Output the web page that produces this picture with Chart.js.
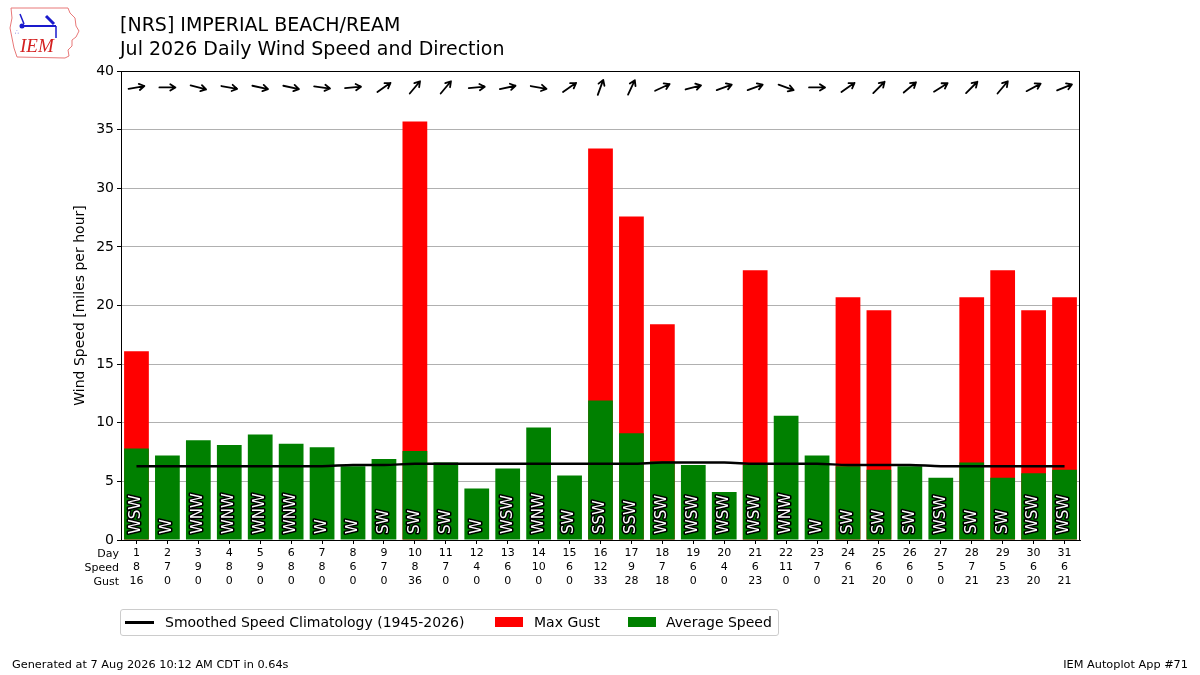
<!DOCTYPE html>
<html>
<head>
<meta charset="utf-8">
<script src="https://cdn.jsdelivr.net/npm/chart.js@4.4.1/dist/chart.umd.min.js"></script>
<style>
  body { margin: 0; background: #fff; font-family: "DejaVu Sans", sans-serif; }
  #wrap { position: relative; width: 1200px; height: 675px; overflow: hidden; }
  #chartBox { position: absolute; left: 0; top: 0; width: 1200px; height: 675px; }
  .title { position: absolute; left: 120px; font-size: 19px; line-height: 24px; color: #000; white-space: nowrap; }
  .foot { position: absolute; top: 658px; font-size: 11.3px; line-height: 13px; color: #000; white-space: nowrap; }
  #legend { position: absolute; left: 120px; top: 609px; width: 657px; height: 25px; border: 1px solid #cccccc; border-radius: 3px; }
  #legend span { position: absolute; font-size: 14px; line-height: 16px; top: 4px; white-space: nowrap; }
  #legend i { position: absolute; display: block; }
</style>
</head>
<body>
<div id="wrap">
  <div id="chartBox"><canvas id="windChart"></canvas></div>

  <svg style="position:absolute;left:6px;top:4px" width="76" height="56" viewBox="0 0 76 56">
    <path d="M5 4 L62 4 L64 9 L69 14 L70 22 L73 27 L70 33 L66 36 L66 42 L62 46 L63 52 L59 54 L11 53 L8 44 L6 34 L4 24 L6 14 Z"
          fill="none" stroke="#e87878" stroke-width="1"/>
    <line x1="16" y1="22" x2="50" y2="22" stroke="#1a1acc" stroke-width="2"/>
    <circle cx="16" cy="22" r="2.5" fill="#1a1acc"/>
    <line x1="14" y1="10" x2="18" y2="20" stroke="#1a1acc" stroke-width="1.5"/>
    <line x1="40" y1="12" x2="48" y2="20" stroke="#1a1acc" stroke-width="3"/>
    <line x1="50" y1="22" x2="50" y2="34" stroke="#1a1acc" stroke-width="1.5"/>
    <text x="9" y="30" font-size="6" fill="#1a1acc">∴</text>
    <text x="14" y="48" font-family="Liberation Serif, serif" font-style="italic" font-size="19" fill="#d42020">IEM</text>
  </svg>

  <div class="title" style="top:12px">[NRS] IMPERIAL BEACH/REAM</div>
  <div class="title" style="top:36px">Jul 2026 Daily Wind Speed and Direction</div>

  <div id="legend">
    <i style="left:4px;top:11px;width:29px;height:2.5px;background:#000"></i>
    <span style="left:44px">Smoothed Speed Climatology (1945-2026)</span>
    <i style="left:374px;top:7px;width:28px;height:10px;background:#ff0000"></i>
    <span style="left:413px">Max Gust</span>
    <i style="left:507px;top:7px;width:28px;height:10px;background:#008000"></i>
    <span style="left:545px">Average Speed</span>
  </div>

  <div class="foot" style="left:12px">Generated at 7 Aug 2026 10:12 AM CDT in 0.64s</div>
  <div class="foot" style="right:12px">IEM Autoplot App #71</div>
</div>

<script>
const days = [1, 2, 3, 4, 5, 6, 7, 8, 9, 10, 11, 12, 13, 14, 15, 16, 17, 18, 19, 20, 21, 22, 23, 24, 25, 26, 27, 28, 29, 30, 31];
// average speed and max gust, mph
const avgSpeed = [7.8, 7.2, 8.5, 8.1, 9.0, 8.2, 7.9, 6.3, 6.9, 7.6, 6.6, 4.4, 6.1, 9.6, 5.5, 11.9,
                  9.1, 6.7, 6.4, 4.1, 6.4, 10.6, 7.2, 6.3, 6.0, 6.3, 5.3, 6.6, 5.3, 5.7, 6.0];
const maxGust = [16.1, 0, 0, 0, 0, 0, 0, 0, 0, 35.7, 0, 0, 0, 0, 0, 33.4,
                 27.6, 18.4, 0, 0, 23.0, 0, 0, 20.7, 19.6, 0, 0, 20.7, 23.0, 19.6, 20.7];
const climo = [6.3, 6.3, 6.3, 6.3, 6.3, 6.3, 6.3, 6.4, 6.4, 6.5, 6.5, 6.5, 6.5, 6.5, 6.5, 6.5,
               6.5, 6.6, 6.6, 6.6, 6.5, 6.5, 6.5, 6.4, 6.4, 6.4, 6.3, 6.3, 6.3, 6.3, 6.3];
// wind direction (degrees, from) and its compass label
const windDir = [260, 270, 285, 280, 282, 282, 278, 265, 235, 220, 220, 265, 258, 280, 235, 200,
                 205, 245, 255, 250, 250, 290, 270, 235, 225, 230, 238, 225, 220, 242, 248];
const dirLabels = ['WSW', 'W', 'WNW', 'WNW', 'WNW', 'WNW', 'W', 'W', 'SW', 'SW', 'SW', 'W', 'WSW', 'WNW', 'SW', 'SSW',
                   'SSW', 'WSW', 'WSW', 'WSW', 'WSW', 'WNW', 'W', 'SW', 'SW', 'SW', 'WSW', 'SW', 'SW', 'WSW', 'WSW'];
// rounded values printed under the axis
const speedLabels = ['8', '7', '9', '8', '9', '8', '8', '6', '7', '8', '7', '4', '6', '10', '6', '12',
                     '9', '7', '6', '4', '6', '11', '7', '6', '6', '6', '5', '7', '5', '6', '6'];
const gustLabels = ['16', '0', '0', '0', '0', '0', '0', '0', '0', '36', '0', '0', '0', '0', '0', '33',
                    '28', '18', '0', '0', '23', '0', '0', '21', '20', '0', '0', '21', '23', '20', '21'];
const yTicks = [0, 5, 10, 15, 20, 25, 30, 35, 40];

const FONT = '"DejaVu Sans", sans-serif';
const tickLines = 14;

// box, row headers, direction text and arrows
const extras = {
  id: 'extras',
  afterDatasetsDraw(chart) {
    const { ctx, chartArea } = chart;
    const x = chart.scales.x, y = chart.scales.y;
    ctx.save();
    ctx.strokeStyle = '#000';
    ctx.lineWidth = 1;
    ctx.strokeRect(chartArea.left + 0.5, chartArea.top + 0.5, chartArea.right - chartArea.left - 1, chartArea.bottom - chartArea.top);

    // direction labels inside bars
    ctx.font = '15px ' + FONT;
    ctx.textAlign = 'left';
    ctx.textBaseline = 'middle';
    ctx.lineJoin = 'round';
    dirLabels.forEach((lbl, i) => {
      const px = x.getPixelForValue(i);
      ctx.save();
      ctx.translate(px, y.getPixelForValue(0) - 6);
      ctx.rotate(-Math.PI / 2);
      ctx.lineWidth = 3;
      ctx.strokeStyle = '#000';
      ctx.strokeText(lbl, 0, 0);
      ctx.fillStyle = '#fff';
      ctx.fillText(lbl, 0, 0);
      ctx.restore();
    });

    // arrows showing where the wind blows to
    ctx.strokeStyle = '#000';
    ctx.lineWidth = 1.8;
    ctx.lineCap = 'round';
    windDir.forEach((d, i) => {
      const px = x.getPixelForValue(i);
      const py = y.getPixelForValue(38.6);
      const b = (d + 180) * Math.PI / 180;
      const dx = Math.sin(b), dy = -Math.cos(b);
      const half = 8;
      const x0 = px - dx * half, y0 = py - dy * half;
      const x1 = px + dx * half, y1 = py + dy * half;
      ctx.beginPath();
      ctx.moveTo(x0, y0);
      ctx.lineTo(x1, y1);
      const a = Math.atan2(dy, dx);
      ctx.moveTo(x1 - 6 * Math.cos(a - 0.55), y1 - 6 * Math.sin(a - 0.55));
      ctx.lineTo(x1, y1);
      ctx.lineTo(x1 - 6 * Math.cos(a + 0.55), y1 - 6 * Math.sin(a + 0.55));
      ctx.stroke();
    });

    // row headers for the table under the axis
    ctx.font = '11px ' + FONT;
    ctx.fillStyle = '#000';
    ctx.textAlign = 'right';
    ctx.textBaseline = 'middle';
    ['Day', 'Speed', 'Gust'].forEach((h, i) => {
      ctx.fillText(h, chartArea.left - 2, chartArea.bottom + 14 + i * tickLines);
    });
    ctx.restore();
  }
};

new Chart(document.getElementById('windChart'), {
  type: 'bar',
  data: {
    labels: days.map((d, i) => [String(d), speedLabels[i], gustLabels[i]]),
    datasets: [
      {
        type: 'line',
        label: 'Smoothed Speed Climatology (1945-2026)',
        data: climo,
        borderColor: '#000',
        borderWidth: 2.5,
        pointRadius: 0,
        tension: 0.3,
        order: 0
      },
      {
        label: 'Max Gust',
        data: maxGust,
        backgroundColor: '#ff0000',
        barPercentage: 0.8,
        categoryPercentage: 1.0,
        order: 2
      },
      {
        label: 'Average Speed',
        data: avgSpeed,
        backgroundColor: '#008000',
        barPercentage: 0.8,
        categoryPercentage: 1.0,
        order: 1
      }
    ]
  },
  options: {
    responsive: true,
    maintainAspectRatio: false,
    animation: false,
    devicePixelRatio: 1,
    layout: { padding: { left: 68, right: 120, top: 71, bottom: 80 } },
    scales: {
      x: {
        stacked: true,
        offset: true,
        grid: { display: true, drawOnChartArea: false, offset: false, tickLength: 4, tickColor: '#000' },
        border: { display: true, color: '#000' },
        ticks: {
          color: '#000',
          padding: 2,
          maxRotation: 0,
          autoSkip: false,
          font: { family: FONT, size: 11, lineHeight: tickLines / 11 }
        },
        afterFit(scale) { scale.height = 55; }
      },
      y: {
        stacked: false,
        min: 0,
        max: 40,
        afterBuildTicks(scale) { scale.ticks = yTicks.map(v => ({ value: v })); },
        grid: { color: '#b0b0b0', lineWidth: 1, tickLength: 4, tickColor: '#000' },
        border: { display: true, color: '#000' },
        ticks: { color: '#000', padding: 3, font: { family: FONT, size: 14 } },
        title: {
          display: true,
          text: 'Wind Speed [miles per hour]',
          color: '#000',
          font: { family: FONT, size: 14 }
        },
        afterFit(scale) { scale.width = 53; }
      }
    },
    plugins: {
      legend: { display: false },
      tooltip: { enabled: false }
    }
  },
  plugins: [extras]
});
</script>
</body>
</html>
